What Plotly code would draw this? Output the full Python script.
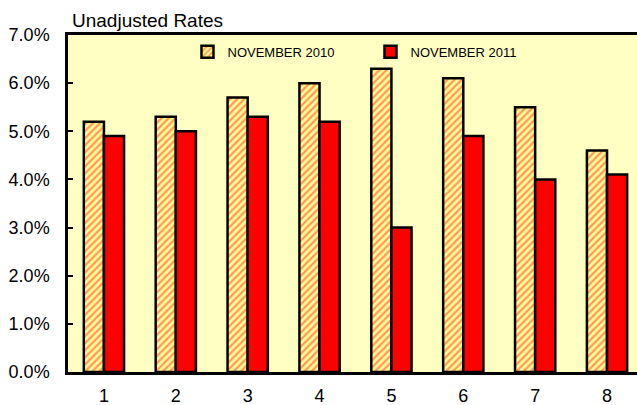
import plotly.graph_objects as go

# Unadjusted unemployment rates by area, November 2010 vs November 2011
categories = ["1", "2", "3", "4", "5", "6", "7", "8"]
nov_2010 = [5.2, 5.3, 5.7, 6.0, 6.3, 6.1, 5.5, 4.6]
nov_2011 = [4.9, 5.0, 5.3, 5.2, 3.0, 4.9, 4.0, 4.1]
y_ticks = [0, 1, 2, 3, 4, 5, 6, 7]
y_tick_text = [f"{v:.1f}%" for v in y_ticks]

FONT = "Liberation Sans, Arial, sans-serif"
PLOT_BG = "#FFFFC4"

fig = go.Figure()
fig.add_trace(go.Bar(
    name="NOVEMBER 2010",
    x=categories,
    y=nov_2010,
    marker=dict(
        color="#FFFA98",
        line=dict(color="black", width=2.5),
        pattern=dict(shape="/", fgcolor="#FF3A18", bgcolor="#FFFA98",
                     size=5, solidity=0.45),
    ),
))
fig.add_trace(go.Bar(
    name="NOVEMBER 2011",
    x=categories,
    y=nov_2011,
    marker=dict(color="#FF0000", line=dict(color="black", width=2.5)),
))

fig.update_layout(
    width=637,
    height=405,
    margin=dict(l=68, r=0, t=35, b=33),
    paper_bgcolor="white",
    plot_bgcolor=PLOT_BG,
    barmode="group",
    bargap=0.44,
    bargroupgap=0,
    font=dict(family=FONT, size=18, color="black"),
    showlegend=True,
    legend=dict(
        orientation="h",
        x=0.21, y=0.995, xanchor="left", yanchor="top",
        bgcolor="rgba(0,0,0,0)",
        font=dict(family=FONT, size=13, color="black"),
        entrywidth=138,
        itemwidth=30,
    ),
    annotations=[dict(
        text="Unadjusted Rates", xref="paper", yref="paper",
        x=0.0, y=1.0, xanchor="left", yanchor="bottom", yshift=2, xshift=2,
        showarrow=False, font=dict(family=FONT, size=19, color="black"),
    )],
)

fig.update_xaxes(
    type="category",
    range=[-0.5, 7.417],
    showline=True, linecolor="black", linewidth=2.5, mirror=True,
    ticks="", showgrid=False,
    tickfont=dict(family=FONT, size=18),
    ticklabelstandoff=6,
)
fig.update_yaxes(
    range=[0, 7],
    tickvals=y_ticks,
    ticktext=y_tick_text,
    showline=True, linecolor="black", linewidth=2.5,
    ticks="inside", ticklen=5, tickwidth=2, tickcolor="black",
    showgrid=False, zeroline=False,
    tickfont=dict(family=FONT, size=18),
    ticklabelstandoff=12,
)

fig.write_html("out.html")
